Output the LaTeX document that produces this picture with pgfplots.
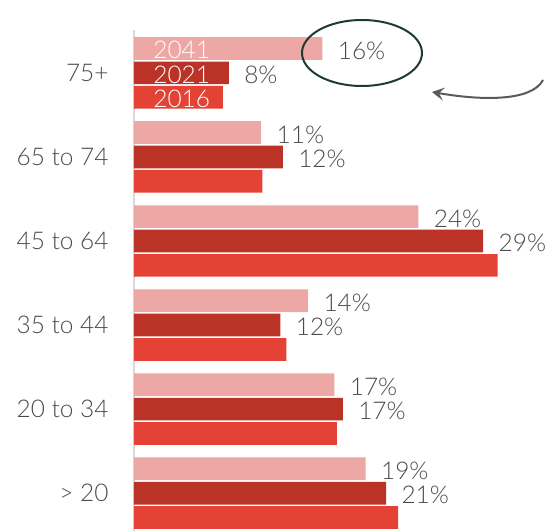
\documentclass[border=0pt]{standalone}
\usepackage{fontspec}
\setmainfont{Lato}[UprightFont={* Light}]
\usepackage{pgfplots}
\pgfplotsset{compat=1.18}
\usetikzlibrary{arrows.meta}
\definecolor{c41}{HTML}{EDA8A6}
\definecolor{c21}{HTML}{BB3327}
\definecolor{c16}{HTML}{E44235}
\definecolor{txt}{HTML}{4A4A4A}
\definecolor{ring}{HTML}{1E3B2F}
\definecolor{arr}{HTML}{5A5A5A}
\begin{document}
\begin{tikzpicture}
\useasboundingbox (-134bp,0bp) rectangle (416bp,531bp);
\begin{axis}[at={(0,0)}, anchor=south west, scale only axis,
  width=414bp, height=501bp,
  xmin=0, xmax=34.5, ymin=-0.45, ymax=5.51,
  axis x line=none, axis y line*=left,
  y axis line style={draw=black!15, line width=2bp},
  ytick={0,1,2,3,4,5},
  yticklabels={{> 20},{20 to 34},{35 to 44},{45 to 64},{65 to 74},{75+}},
  major tick length=0pt,
  yticklabel style={font=\fontsize{24.5}{28}\selectfont, text=txt, xshift=-22bp},
  clip=false,
  every axis plot/.append style={xbar, bar width=0.27, bar shift=0pt, draw=none},
  lab/.style={point meta=explicit symbolic, nodes near coords={\pgfplotspointmeta\%},
    nodes near coords style={anchor=west, xshift=12bp, yshift=-2bp, font=\fontsize{24.5}{28}\selectfont, text=txt}},
]
\addplot[fill=c41, lab] table[x=x, y=y, meta=l] {
x y l
19.3 0.29 19
16.7 1.29 17
14.5 2.29 14
23.7 3.29 24
10.6 4.29 11
15.7 5.29 16
};
\addplot[fill=c21, lab] table[x=x, y=y, meta=l] {
x y l
21.0 0 21
17.4 1 17
12.2 2 12
29.1 3 29
12.4 4 12
7.9 5 8
};
\addplot[fill=c16] table[x=x, y=y] {
x y
22.0 -0.29
16.9 0.71
12.7 1.71
30.3 2.71
10.7 3.71
7.4 4.71
};
\node[anchor=west, text=white, font=\fontsize{24.5}{28}\selectfont, inner sep=0pt] at (axis cs:1.6,5.27) {2041};
\node[anchor=west, text=white, font=\fontsize{24.5}{28}\selectfont, inner sep=0pt] at (axis cs:1.6,4.98) {2021};
\node[anchor=west, text=white, font=\fontsize{24.5}{28}\selectfont, inner sep=0pt] at (axis cs:1.6,4.69) {2016};
\end{axis}
\draw[ring, line width=2bp] (228bp,478bp) ellipse [x radius=60bp, y radius=33bp];
\draw[arr, line width=2bp, -{Stealth[length=12bp, width=13bp, inset=5bp]}] (409bp,451bp) .. controls (398bp,430bp) and (350bp,430bp) .. (298bp,439bp);
\end{tikzpicture}
\end{document}
